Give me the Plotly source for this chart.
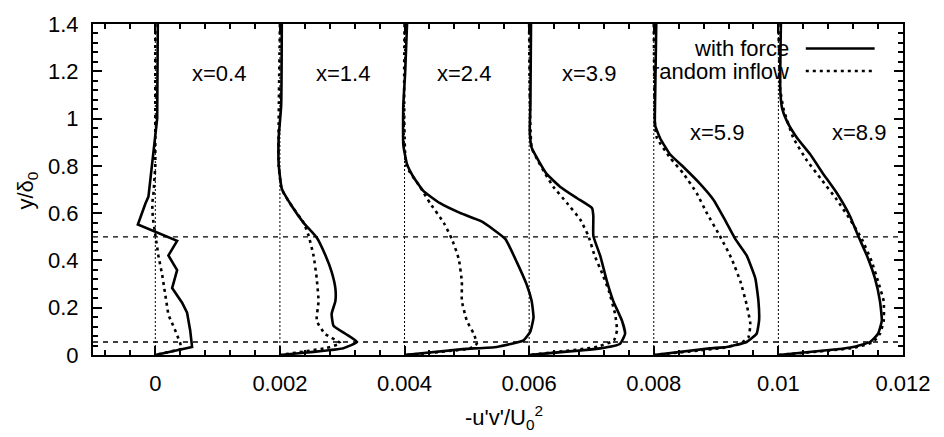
import plotly.graph_objects as go

# Streamwise stations and the offset applied to each profile along the x axis
stations = ["x=0.4", "x=1.4", "x=2.4", "x=3.9", "x=5.9", "x=8.9"]
offsets = [0.0, 0.002, 0.004, 0.006, 0.008, 0.010]

# Reynolds shear stress profiles, "with force" case
force_y = [
    [1.40, 1.00, 0.67, 0.64, 0.552, 0.483, 0.421, 0.359, 0.283, 0.221, 0.179, 0.104, 0.034, 0.0],
    [1.40, 1.056, 0.92, 0.807, 0.704, 0.63, 0.559, 0.497, 0.422, 0.352, 0.282, 0.228, 0.174, 0.124, 0.09, 0.055, 0.029, 0.0],
    [1.40, 1.194, 1.056, 0.89, 0.807, 0.754, 0.692, 0.642, 0.601, 0.567, 0.53, 0.49, 0.394, 0.298, 0.228, 0.159, 0.10, 0.062, 0.034, 0.025, 0.0],
    [1.40, 1.056, 0.946, 0.877, 0.822, 0.766, 0.711, 0.663, 0.621, 0.587, 0.504, 0.42, 0.31, 0.228, 0.145, 0.09, 0.048, 0.028, 0.0],
    [1.40, 1.056, 0.973, 0.918, 0.849, 0.794, 0.725, 0.656, 0.573, 0.49, 0.421, 0.324, 0.228, 0.145, 0.09, 0.055, 0.034, 0.028, 0.0],
    [1.40, 1.125, 1.043, 0.987, 0.918, 0.849, 0.766, 0.684, 0.587, 0.504, 0.421, 0.324, 0.228, 0.145, 0.09, 0.055, 0.034, 0.024, 0.0],
]
force_uv = [
    [0.00004, 0.00003, -0.00011, -0.00016, -0.00028, 0.00035, 0.00021, 0.00035, 0.00027, 0.00043, 0.00051, 0.00056, 0.00059, 0.0],
    [0.00003, 0.00002, -0.00002, -0.00002, 0.00003, 0.00019, 0.00038, 0.00059, 0.00073, 0.00083, 0.00089, 0.00089, 0.00083, 0.00086, 0.00105, 0.00124, 0.00102, 0.0],
    [0.00004, 0.00001, -0.00002, -0.00002, 0.00004, 0.00014, 0.00031, 0.00057, 0.00089, 0.00122, 0.00143, 0.00162, 0.00180, 0.00196, 0.00204, 0.00207, 0.00202, 0.00191, 0.00148, 0.00094, 0.0],
    [0.00003, 0.00002, 0.00001, 0.00004, 0.00015, 0.00028, 0.00050, 0.00077, 0.00101, 0.00103, 0.00103, 0.00114, 0.00125, 0.00135, 0.00149, 0.00154, 0.00146, 0.00114, 0.0],
    [0.00004, 0.00002, 0.00002, 0.00010, 0.00026, 0.00048, 0.00074, 0.00096, 0.00114, 0.00131, 0.00149, 0.00163, 0.00168, 0.00169, 0.00165, 0.00149, 0.00117, 0.00090, 0.0],
    [0.00004, 0.00003, 0.00006, 0.00014, 0.00030, 0.00051, 0.00072, 0.00094, 0.00115, 0.00128, 0.00142, 0.00155, 0.00163, 0.00166, 0.00160, 0.00147, 0.00120, 0.00094, 0.0],
]

# Reynolds shear stress profiles, "random inflow" case
random_y = [
    [1.40, 0.80, 0.68, 0.64, 0.58, 0.50, 0.42, 0.34, 0.26, 0.17, 0.104, 0.05, 0.025, 0.0],
    [1.40, 0.80, 0.70, 0.63, 0.56, 0.505, 0.42, 0.325, 0.228, 0.145, 0.09, 0.05, 0.03, 0.0],
    [1.40, 0.80, 0.711, 0.642, 0.559, 0.49, 0.407, 0.311, 0.228, 0.145, 0.09, 0.048, 0.028, 0.0],
    [1.40, 0.877, 0.822, 0.766, 0.711, 0.642, 0.573, 0.504, 0.421, 0.34, 0.27, 0.173, 0.104, 0.062, 0.035, 0.0],
    [1.40, 0.973, 0.918, 0.835, 0.766, 0.684, 0.601, 0.504, 0.407, 0.311, 0.214, 0.131, 0.076, 0.048, 0.03, 0.0],
    [1.40, 1.125, 1.043, 0.918, 0.822, 0.739, 0.656, 0.573, 0.49, 0.394, 0.311, 0.228, 0.145, 0.09, 0.055, 0.03, 0.0],
]
random_uv = [
    [0.0, 0.0, -0.00003, -0.00005, -0.00004, 0.0, 0.00005, 0.00011, 0.00016, 0.00021, 0.00032, 0.00040, 0.00042, 0.0],
    [0.0, -0.00002, 0.00003, 0.00019, 0.00038, 0.00046, 0.00054, 0.00059, 0.00062, 0.00059, 0.00072, 0.00097, 0.00075, 0.0],
    [0.0, 0.00003, 0.00025, 0.00041, 0.00063, 0.00076, 0.00087, 0.00092, 0.00092, 0.00100, 0.00111, 0.00116, 0.00105, 0.0],
    [0.0, 0.00004, 0.00014, 0.00026, 0.00039, 0.00061, 0.00082, 0.00095, 0.00105, 0.00118, 0.00128, 0.00138, 0.00141, 0.00136, 0.00110, 0.0],
    [0.0, 0.00002, 0.00005, 0.00026, 0.00048, 0.00069, 0.00085, 0.00106, 0.00125, 0.00139, 0.00149, 0.00155, 0.00152, 0.00139, 0.00110, 0.0],
    [0.0, 0.00003, 0.00008, 0.00024, 0.00046, 0.00070, 0.00094, 0.00115, 0.00134, 0.00150, 0.00160, 0.00169, 0.00169, 0.00163, 0.00152, 0.00120, 0.0],
]

# Station label positions (data coordinates)
label_x = [0.00103, 0.00302, 0.00496, 0.00696, 0.00902, 0.01129]
label_y = [1.19, 1.19, 1.19, 1.19, 0.94, 0.94]

# Horizontal reference levels
ref_levels = [0.5, 0.055]

X_RANGE = [-0.001, 0.012]
Y_RANGE = [0.0, 1.4]
FONT = "Liberation Sans, Arial, sans-serif"

fig = go.Figure()

# Zero line of every profile
for off in offsets:
    fig.add_shape(type="line", x0=off, x1=off, y0=Y_RANGE[0], y1=Y_RANGE[1],
                  line=dict(color="black", width=1, dash="2px,2px"), layer="below")

# Reference levels
for lev in ref_levels:
    fig.add_shape(type="line", x0=X_RANGE[0], x1=X_RANGE[1], y0=lev, y1=lev,
                  line=dict(color="black", width=1.3, dash="5px,5px"), layer="below")

for i, off in enumerate(offsets):
    shape = "linear" if i == 0 else "spline"
    fig.add_trace(go.Scatter(
        x=[v + off for v in random_uv[i]], y=random_y[i], mode="lines",
        line=dict(color="black", width=2.6, dash="3px,4px", shape=shape, smoothing=0.4),
        showlegend=False, hoverinfo="skip"))
    fig.add_trace(go.Scatter(
        x=[v + off for v in force_uv[i]], y=force_y[i], mode="lines",
        line=dict(color="black", width=2.6, shape=shape, smoothing=0.4),
        showlegend=False, hoverinfo="skip"))

for name, lx, ly in zip(stations, label_x, label_y):
    fig.add_annotation(x=lx, y=ly, text=name, showarrow=False,
                       xanchor="center", yanchor="middle",
                       font=dict(family=FONT, size=22, color="black"))

# Key, drawn gnuplot style: text right-aligned, sample line to its right
key_entries = [("with force", "solid", 0.926), ("random inflow", "3px,4px", 0.858)]
for text, dash, yk in key_entries:
    fig.add_annotation(xref="paper", yref="paper", x=0.862, y=yk, text=text,
                       xanchor="right", yanchor="middle", showarrow=False,
                       font=dict(family=FONT, size=22, color="black"))
    fig.add_shape(type="line", xref="paper", yref="paper", x0=0.880, x1=0.965,
                  y0=yk, y1=yk, line=dict(color="black", width=2.6, dash=dash))

axis_common = dict(
    showline=True, linecolor="black", linewidth=2, mirror="allticks",
    ticks="inside", ticklen=9, tickwidth=1.5, tickcolor="black",
    showgrid=False, zeroline=False,
    tickfont=dict(family=FONT, size=22, color="black"),
)

fig.update_xaxes(range=X_RANGE, dtick=0.002, tick0=0,
                 minor=dict(ticks="inside", ticklen=5, dtick=0.0004, tickcolor="black", tickwidth=1.5),
                 ticklabelstandoff=8, **axis_common)
fig.update_yaxes(range=Y_RANGE, dtick=0.2, tick0=0,
                 minor=dict(ticks="inside", ticklen=5, dtick=0.04, tickcolor="black", tickwidth=1.5),
                 ticklabelstandoff=8, **axis_common)

# Axis titles
fig.add_annotation(xref="paper", yref="paper", x=-0.081, y=0.498,
                   xanchor="center", yanchor="middle",
                   text="y/δ<sub>0</sub>", textangle=-90, showarrow=False,
                   font=dict(family=FONT, size=22, color="black"))
fig.add_annotation(xref="paper", yref="paper", x=0.507, y=-0.19,
                   xanchor="center", yanchor="middle",
                   text="-u'v'/U<sub>0</sub><sup>2</sup>", showarrow=False,
                   font=dict(family=FONT, size=22, color="black"))

fig.update_layout(
    width=944, height=437,
    margin=dict(l=93, r=41, t=17, b=82),
    paper_bgcolor="white", plot_bgcolor="white",
    showlegend=False,
)

fig.write_html("out.html")
